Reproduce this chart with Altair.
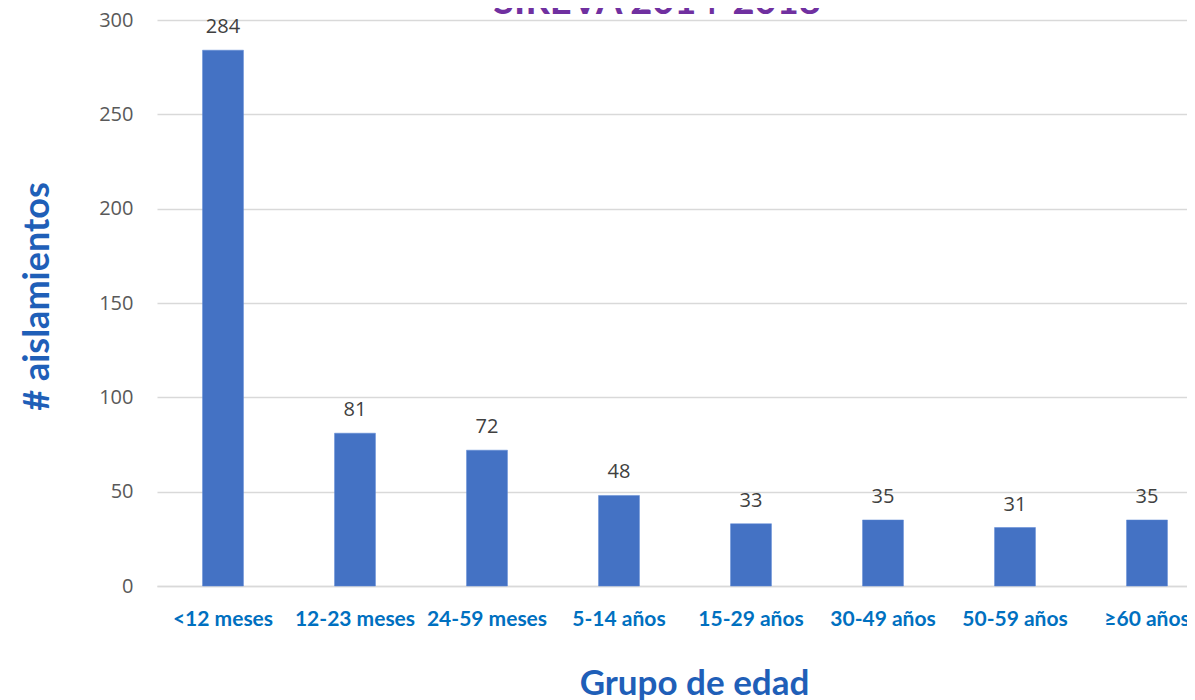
import altair as alt
import pandas as pd

categories = ["<12 meses", "12-23 meses", "24-59 meses", "5-14 años",
              "15-29 años", "30-49 años", "50-59 años", "≥60 años"]
values = [284, 81, 72, 48, 33, 35, 31, 35]
y_ticks = [0, 50, 100, 150, 200, 250, 300]
title_text = ["SIREVA 2014-2018"]

df = pd.DataFrame({"grupo": categories, "n": values})
tdf = pd.DataFrame({"t": title_text})

x_enc = alt.X(
    "grupo:N", sort=categories,
    scale=alt.Scale(range=[0, 1056], paddingInner=0.69, paddingOuter=0.345),
    axis=alt.Axis(
        title="Grupo de edad", titleFont="Lato", titleFontSize=35,
        titleFontWeight="bold", titleColor="#1F5FB8",
        titleX=537, titleY=108, titleAnchor="start", titleAlign="center",
        titleBaseline="alphabetic",
        labelFont="Lato", labelFontSize=21, labelFontWeight="bold",
        labelColor="#0070C0", labelAngle=0, labelPadding=39,
        labelBaseline="alphabetic", labelOverlap=False, labelLimit=0,
        ticks=False, tickSize=0, domain=True, domainColor="#D9D9D9",
        domainWidth=1.5, grid=False,
    ),
)

y_enc = alt.Y(
    "n:Q", scale=alt.Scale(domain=[0, 300], nice=False),
    axis=alt.Axis(
        values=y_ticks, title="# aislamientos", titleFont="Lato",
        titleFontSize=36, titleFontWeight="bold", titleColor="#1F5FB8",
        titleAngle=-90, titleX=-120, titleY=276, titleAlign="center",
        titleBaseline="middle", titleAnchor="start",
        labelFont="Open Sans", labelFontSize=20, labelColor="#595959",
        labelPadding=24, ticks=False, tickSize=0, domain=False,
        grid=True, gridColor="#D9D9D9", gridWidth=1.5,
    ),
)

bars = alt.Chart(df).mark_bar(color="#4472C4", stroke="#5B87D4", strokeWidth=0.5).encode(
    x=x_enc, y=y_enc
)

labels = alt.Chart(df).mark_text(
    font="Open Sans", fontSize=20, color="#404040", baseline="alphabetic", dy=-17
).encode(
    x=alt.X("grupo:N", sort=categories),
    y=alt.Y("n:Q"),
    text=alt.Text("n:Q"),
)

title = alt.Chart(tdf).mark_text(
    font="Lato", fontSize=38, fontWeight="bold", color="#7030A0",
    baseline="alphabetic", align="center"
).encode(
    x=alt.value(500), y=alt.value(-6), text="t:N"
)

chart = alt.layer(bars, labels, title).properties(
    width=1030, height=566,
    autosize=alt.AutoSizeParams(type="none"),
    padding={"left": 149, "top": 12, "right": 0, "bottom": 114},
).configure_view(stroke=None)

chart.save("out.html", embed_options={"renderer": "svg", "actions": False})
